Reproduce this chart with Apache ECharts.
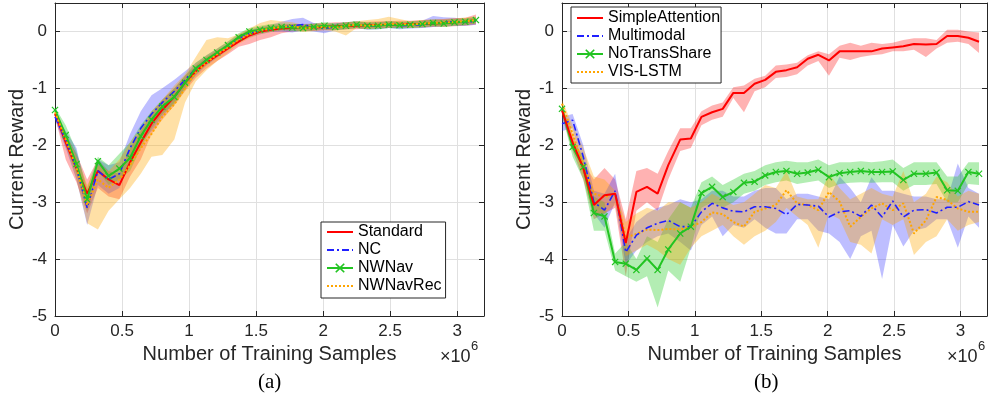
<!DOCTYPE html>
<html>
<head>
<meta charset="utf-8">
<script src="https://cdn.jsdelivr.net/npm/echarts@6/dist/echarts.min.js"></script>
<style>html,body{margin:0;padding:0;background:#fff}#c{width:990px;height:402px}</style>
</head>
<body>
<div id="c"></div>
<script>
// Training samples (x 10^6)
const samples = [0,0.08,0.16,0.24,0.32,0.40,0.48,0.56,0.64,0.72,0.80,0.89,0.97,1.05,1.13,1.21,1.29,1.37,1.45,1.53,1.61,1.69,1.77,1.85,1.93,2.01,2.09,2.17,2.25,2.33,2.41,2.49,2.57,2.65,2.74,2.82,2.90,2.98,3.06,3.14];
const xTicks = ['0','0.5','1','1.5','2','2.5','3'];
const yTicks = ['-5','-4','-3','-2','-1','0'];

// (a)
const standardMean = [-1.45,-1.95,-2.4,-2.85,-2.45,-2.6,-2.7,-2.3,-1.95,-1.62,-1.38,-1.15,-0.9,-0.7,-0.55,-0.42,-0.3,-0.18,-0.07,0.0,0.03,0.05,0.06,0.07,0.07,0.08,0.09,0.1,0.1,0.11,0.11,0.12,0.12,0.13,0.13,0.14,0.15,0.16,0.17,0.2];
const standardUp = [-1.4,-1.8,-2.15,-2.6,-2.25,-2.45,-2.5,-2.05,-1.75,-1.45,-1.2,-1.0,-0.78,-0.6,-0.45,-0.33,-0.22,-0.1,0.0,0.07,0.1,0.12,0.13,0.13,0.14,0.15,0.16,0.16,0.17,0.17,0.18,0.18,0.19,0.19,0.2,0.21,0.22,0.23,0.24,0.3];
const standardLo = [-1.5,-2.25,-2.65,-3.2,-2.75,-2.9,-2.95,-2.55,-2.25,-1.8,-1.55,-1.3,-1.05,-0.82,-0.65,-0.52,-0.4,-0.27,-0.22,-0.15,-0.1,-0.03,0.0,0.01,0.01,0.02,0.03,0.04,0.04,0.05,0.05,0.06,0.06,0.07,0.07,0.08,0.08,0.09,0.1,0.12];
const ncMean = [-1.5,-1.9,-2.4,-3.1,-2.45,-2.6,-2.5,-2.05,-1.7,-1.45,-1.25,-1.05,-0.85,-0.65,-0.5,-0.38,-0.25,-0.12,-0.03,0.02,0.05,0.08,0.1,0.12,0.08,0.05,0.08,0.1,0.12,0.09,0.1,0.12,0.1,0.11,0.12,0.14,0.16,0.17,0.16,0.18];
const ncUp = [-1.45,-1.75,-2.05,-2.85,-2.25,-2.35,-2.3,-1.8,-1.4,-1.12,-1.0,-0.85,-0.7,-0.55,-0.42,-0.3,-0.18,-0.06,0.03,0.08,0.12,0.17,0.22,0.24,0.15,0.12,0.14,0.16,0.18,0.15,0.16,0.18,0.16,0.17,0.19,0.27,0.25,0.24,0.22,0.24];
const ncLo = [-1.55,-2.05,-2.6,-3.4,-2.7,-2.85,-2.75,-2.3,-1.95,-1.75,-1.5,-1.25,-1.0,-0.78,-0.6,-0.46,-0.33,-0.2,-0.1,-0.05,-0.01,0.0,-0.02,0.02,0.0,-0.03,0.02,0.04,0.06,0.03,0.04,0.06,0.04,0.05,0.06,0.08,0.1,0.1,0.1,0.12];
const nwnavMean = [-1.38,-1.82,-2.33,-2.95,-2.28,-2.54,-2.41,-2.22,-1.84,-1.55,-1.32,-1.15,-0.9,-0.65,-0.5,-0.37,-0.24,-0.1,0.0,0.03,0.06,0.08,0.07,0.06,0.08,0.1,0.08,0.1,0.12,0.1,0.1,0.12,0.11,0.12,0.13,0.15,0.14,0.16,0.17,0.2];
const nwnavUp = [-1.33,-1.65,-2.1,-2.75,-2.2,-2.35,-2.15,-1.95,-1.65,-1.4,-1.2,-1.0,-0.78,-0.55,-0.42,-0.3,-0.17,-0.03,0.06,0.1,0.13,0.14,0.13,0.12,0.14,0.16,0.14,0.16,0.18,0.16,0.16,0.18,0.17,0.18,0.19,0.21,0.2,0.22,0.23,0.26];
const nwnavLo = [-1.43,-2.0,-2.5,-3.15,-2.45,-2.7,-2.6,-2.45,-2.05,-1.7,-1.45,-1.28,-1.02,-0.75,-0.58,-0.44,-0.31,-0.17,-0.06,-0.03,0.0,0.02,0.01,0.0,0.02,0.04,0.02,0.04,0.06,0.04,0.04,0.06,0.05,0.06,0.07,0.09,0.08,0.1,0.11,0.14];
const nwnavRecMean = [-1.42,-1.9,-2.4,-3.05,-2.6,-2.75,-2.6,-2.35,-2.05,-1.8,-1.5,-1.28,-1.0,-0.72,-0.55,-0.4,-0.28,-0.14,-0.05,0.02,0.05,0.08,0.1,0.05,0.07,0.08,0.06,0.1,0.12,0.1,0.12,0.13,0.14,0.12,0.14,0.15,0.16,0.17,0.18,0.2];
const nwnavRecUp = [-1.38,-1.8,-2.2,-2.7,-2.35,-2.45,-2.25,-1.95,-1.7,-1.4,-1.2,-0.95,-0.75,-0.45,-0.15,-0.1,-0.12,-0.05,0.05,0.15,0.2,0.18,0.16,0.12,0.13,0.14,0.12,0.16,0.18,0.2,0.22,0.26,0.22,0.18,0.2,0.21,0.22,0.23,0.24,0.26];
const nwnavRecLo = [-1.46,-2.0,-2.6,-3.37,-3.48,-3.15,-2.95,-2.75,-2.5,-2.2,-2.17,-1.9,-1.25,-0.88,-0.68,-0.52,-0.38,-0.22,-0.12,-0.05,-0.01,0.02,0.04,-0.01,0.01,0.02,0.0,-0.07,0.06,0.04,0.06,0.07,0.08,0.06,0.08,0.09,0.1,0.11,0.12,0.14];

// (b)
const saMean = [-1.39,-1.95,-2.4,-3.05,-2.88,-2.85,-3.72,-2.82,-2.73,-2.85,-2.35,-1.9,-1.88,-1.5,-1.42,-1.36,-1.08,-1.08,-0.92,-0.85,-0.71,-0.68,-0.63,-0.48,-0.41,-0.51,-0.35,-0.35,-0.35,-0.35,-0.3,-0.28,-0.26,-0.22,-0.23,-0.22,-0.08,-0.08,-0.11,-0.18];
const saUp = [-1.3,-1.8,-2.3,-2.6,-2.4,-2.6,-3.3,-2.45,-2.4,-2.5,-2.1,-1.7,-1.7,-1.4,-1.3,-1.25,-0.98,-0.95,-0.83,-0.78,-0.6,-0.58,-0.55,-0.42,-0.35,-0.4,-0.25,-0.2,-0.25,-0.2,-0.22,-0.2,-0.15,-0.12,-0.12,-0.15,0.03,0.03,0.0,-0.02];
const saLo = [-1.5,-2.1,-2.6,-3.3,-3.2,-3.1,-4.3,-3.15,-3.0,-3.15,-2.6,-2.1,-2.05,-1.65,-1.55,-1.5,-1.17,-1.42,-1.05,-0.98,-0.82,-0.8,-0.75,-0.6,-0.52,-0.78,-0.46,-0.5,-0.45,-0.42,-0.4,-0.35,-0.35,-0.32,-0.45,-0.3,-0.2,-0.18,-0.22,-0.38];
const mmMean = [-1.62,-1.56,-2.2,-3.0,-3.14,-2.8,-3.88,-3.58,-3.45,-3.37,-3.32,-3.43,-3.43,-3.17,-3.02,-3.1,-3.16,-3.17,-3.08,-3.08,-3.11,-3.22,-3.04,-3.05,-3.07,-3.26,-3.17,-3.15,-3.25,-3.05,-3.26,-2.98,-3.26,-3.14,-3.13,-3.19,-3.09,-3.09,-2.99,-3.05];
const mmUp = [-1.5,-1.45,-2.0,-2.8,-2.85,-2.5,-3.65,-3.35,-3.2,-3.1,-3.05,-2.95,-3.0,-2.95,-2.8,-2.8,-2.9,-2.9,-2.8,-2.75,-2.75,-2.95,-2.85,-2.85,-2.9,-2.95,-2.55,-2.75,-3.0,-2.56,-2.8,-2.8,-2.85,-2.9,-2.9,-2.95,-2.95,-2.32,-2.75,-2.85];
const mmLo = [-1.75,-1.7,-2.5,-3.2,-3.45,-3.0,-4.1,-3.85,-3.7,-3.6,-3.55,-3.7,-3.85,-3.4,-3.25,-3.6,-3.4,-3.45,-3.3,-3.45,-3.55,-3.55,-3.3,-3.3,-3.5,-3.55,-3.7,-4.0,-3.6,-3.5,-4.35,-3.4,-3.78,-3.5,-3.45,-3.3,-3.3,-3.8,-3.25,-3.45];
const ntsMean = [-1.36,-2.03,-2.38,-3.19,-3.25,-4.05,-4.08,-4.19,-3.99,-4.19,-3.83,-3.55,-3.43,-2.84,-2.73,-2.91,-2.82,-2.66,-2.64,-2.53,-2.47,-2.45,-2.5,-2.48,-2.43,-2.56,-2.49,-2.47,-2.45,-2.47,-2.47,-2.46,-2.61,-2.5,-2.5,-2.48,-2.79,-2.8,-2.47,-2.5];
const ntsUp = [-1.3,-1.9,-2.2,-2.9,-3.0,-3.9,-3.7,-4.0,-3.6,-3.7,-3.3,-3.0,-3.1,-2.65,-2.55,-2.7,-2.6,-2.5,-2.45,-2.35,-2.3,-2.27,-2.3,-2.3,-2.25,-2.35,-2.3,-2.3,-2.28,-2.3,-2.28,-2.25,-2.4,-2.3,-2.3,-2.3,-2.55,-2.55,-2.3,-2.3];
const ntsLo = [-1.45,-2.2,-2.6,-3.5,-3.5,-4.2,-4.3,-4.4,-4.3,-4.85,-4.2,-4.4,-3.8,-3.1,-3.0,-3.1,-3.0,-2.85,-2.8,-2.7,-2.65,-2.62,-2.68,-2.65,-2.62,-2.75,-2.68,-2.66,-2.65,-2.66,-2.65,-2.65,-2.8,-2.7,-2.7,-2.68,-3.0,-3.0,-2.68,-2.7];
const visMean = [-1.27,-1.8,-2.35,-2.85,-2.91,-2.85,-3.62,-3.56,-3.48,-3.49,-3.47,-3.48,-3.43,-3.35,-3.18,-3.21,-3.35,-3.43,-3.17,-3.11,-3.05,-2.79,-3.02,-3.05,-3.14,-2.82,-2.99,-3.43,-3.26,-3.11,-3.02,-3.14,-3.02,-3.55,-3.32,-2.91,-2.96,-3.11,-3.17,-3.17];
const visUp = [-1.2,-1.65,-2.05,-2.55,-2.6,-2.8,-3.35,-3.2,-3.1,-3.15,-3.0,-3.0,-3.1,-3.0,-2.85,-2.95,-3.05,-3.0,-2.85,-2.7,-2.75,-2.45,-2.9,-2.95,-2.95,-2.5,-2.75,-2.95,-2.85,-2.75,-2.85,-2.9,-2.45,-3.0,-2.85,-2.55,-2.65,-2.9,-2.8,-2.85];
const visLo = [-1.35,-2.0,-2.55,-3.2,-3.2,-3.05,-3.95,-3.85,-3.75,-3.85,-4.0,-4.1,-3.8,-3.6,-3.5,-3.4,-3.6,-3.75,-3.6,-3.5,-3.35,-3.1,-3.25,-3.4,-3.8,-3.2,-3.3,-3.7,-3.75,-3.9,-3.3,-3.4,-3.3,-3.93,-3.7,-3.6,-3.3,-3.5,-3.4,-3.35];

const FONT = "'Liberation Sans', Arial, Helvetica, sans-serif";
const AX = '#262626';
const C = {
  red: '#ff0000', redBand: 'rgba(255,0,0,0.3)',
  blue: '#2020ff', blueBand: 'rgba(40,40,255,0.3)',
  green: '#22c422', greenBand: 'rgba(20,200,20,0.32)',
  orange: '#ffa500', orangeBand: 'rgba(255,165,0,0.35)'
};
const XMARK = 'path://M0,1.2L1.2,0L5,3.8L8.8,0L10,1.2L6.2,5L10,8.8L8.8,10L5,6.2L1.2,10L0,8.8L3.8,5Z';

function band(g, up, lo, color) {
  return {
    type: 'custom', xAxisIndex: g * 2, yAxisIndex: g * 2, silent: true, z: 1,
    data: samples.map((x, i) => [x, lo[i], up[i]]),
    encode: { x: 0, y: [1, 2] },
    renderItem: function (params, api) {
      if (params.dataIndex !== 0) return null;
      const pts = [];
      for (let i = 0; i < samples.length; i++) pts.push(api.coord([samples[i], up[i]]));
      for (let i = samples.length - 1; i >= 0; i--) pts.push(api.coord([samples[i], lo[i]]));
      return { type: 'polygon', shape: { points: pts }, style: { fill: color, stroke: null } };
    }
  };
}
function line(g, name, vals, color, dash, width, marker) {
  return {
    type: 'line', name: name, xAxisIndex: g * 2, yAxisIndex: g * 2, z: 3,
    data: samples.map((x, i) => [x, vals[i]]),
    symbol: marker ? XMARK : 'none', symbolSize: 7, showSymbol: !!marker,
    itemStyle: { color: color },
    lineStyle: { color: color, width: width, type: dash },
    emphasis: { disabled: true }
  };
}
const xLab = v => { const k = Math.round(v * 2); return Math.abs(v * 2 - k) < 1e-6 ? xTicks[k] : ''; };
const yLab = v => { const k = Math.round(v); return Math.abs(v - k) < 1e-6 && k <= 0 ? yTicks[k + 5] : ''; };

function axesFor(g) {
  const base = { gridIndex: g, type: 'value', axisLine: { show: true, onZero: false, lineStyle: { color: AX, width: 1 } },
    axisTick: { show: true, inside: true, length: 5, lineStyle: { color: AX } } };
  const xs = [
    Object.assign({}, base, { min: 0, max: 3.2, interval: 0.5, position: 'bottom',
      axisLabel: { formatter: xLab, fontSize: 17, color: AX, fontFamily: FONT, margin: 7 },
      splitLine: { show: true, lineStyle: { color: '#e0e0e0', width: 1 } },
      name: 'Number of Training Samples', nameLocation: 'middle', nameGap: 25,
      nameTextStyle: { fontSize: 20, color: AX, fontFamily: FONT } }),
    Object.assign({}, base, { min: 0, max: 3.2, interval: 0.5, position: 'top',
      axisLabel: { show: false }, splitLine: { show: false } })
  ];
  const ys = [
    Object.assign({}, base, { min: -5, max: 0.5, interval: 1, position: 'left',
      axisLabel: { formatter: yLab, fontSize: 17, color: AX, fontFamily: FONT, margin: 8 },
      splitLine: { show: true, lineStyle: { color: '#e0e0e0', width: 1 } },
      name: 'Current Reward', nameLocation: 'middle', nameGap: 27,
      nameTextStyle: { fontSize: 20, color: AX, fontFamily: FONT } }),
    Object.assign({}, base, { min: -5, max: 0.5, interval: 1, position: 'right',
      axisLabel: { show: false }, splitLine: { show: false } })
  ];
  return { xs, ys };
}
const a0 = axesFor(0), a1 = axesFor(1);

const legendBase = { orient: 'vertical', backgroundColor: '#fff', borderColor: AX, borderWidth: 1, borderRadius: 0,
  itemWidth: 26, itemHeight: 12, itemGap: 0, selectedMode: false,
  textStyle: { fontSize: 16, color: '#000', fontFamily: FONT, lineHeight: 18 } };
const plain = n => ({ name: n, itemStyle: { opacity: 0 } });
const marked = n => ({ name: n });

const option = {
  animation: false,
  backgroundColor: '#fff',
  grid: [
    { left: 55, top: 3, width: 429, height: 313 },
    { left: 562, top: 3, width: 427, height: 313 }
  ],
  xAxis: [a0.xs[0], a0.xs[1], a1.xs[0], a1.xs[1]],
  yAxis: [a0.ys[0], a0.ys[1], a1.ys[0], a1.ys[1]],
  legend: [
    Object.assign({}, legendBase, { left: 321, top: 222, padding: [1, 4, 3, 5],
      data: [plain('Standard'), plain('NC'), marked('NWNav'), plain('NWNavRec')] }),
    Object.assign({}, legendBase, { left: 571, top: 7, padding: [2, 1, 2, 5],
      data: [plain('SimpleAttention'), plain('Multimodal'), marked('NoTransShare'), plain('VIS-LSTM')] })
  ],
  graphic: [
    { type: 'text', left: 440, top: 348, style: { text: '×10', fontSize: 18, fill: AX, fontFamily: FONT } },
    { type: 'text', left: 471, top: 340, style: { text: '6', fontSize: 13, fill: AX, fontFamily: FONT } },
    { type: 'text', left: 947, top: 348, style: { text: '×10', fontSize: 18, fill: AX, fontFamily: FONT } },
    { type: 'text', left: 978, top: 340, style: { text: '6', fontSize: 13, fill: AX, fontFamily: FONT } },
    { type: 'text', left: 258, top: 372, style: { text: '(a)', fontSize: 21, fill: '#000', fontFamily: "'Liberation Serif', 'Times New Roman', serif" } },
    { type: 'text', left: 754, top: 372, style: { text: '(b)', fontSize: 21, fill: '#000', fontFamily: "'Liberation Serif', 'Times New Roman', serif" } }
  ],
  series: [
    band(0, standardUp, standardLo, C.redBand),
    band(0, ncUp, ncLo, C.blueBand),
    band(0, nwnavUp, nwnavLo, C.greenBand),
    band(0, nwnavRecUp, nwnavRecLo, C.orangeBand),
    line(0, 'Standard', standardMean, C.red, 'solid', 2),
    line(0, 'NC', ncMean, C.blue, [7, 3, 2, 3], 1.6),
    line(0, 'NWNav', nwnavMean, C.green, 'solid', 2, true),
    line(0, 'NWNavRec', nwnavRecMean, C.orange, [2, 2], 2),
    band(1, saUp, saLo, C.redBand),
    band(1, mmUp, mmLo, C.blueBand),
    band(1, ntsUp, ntsLo, C.greenBand),
    band(1, visUp, visLo, C.orangeBand),
    line(1, 'VIS-LSTM', visMean, C.orange, [2, 2], 2),
    line(1, 'Multimodal', mmMean, C.blue, [7, 3, 2, 3], 1.6),
    line(1, 'NoTransShare', ntsMean, C.green, 'solid', 2, true),
    line(1, 'SimpleAttention', saMean, C.red, 'solid', 2)
  ]
};
const chart = echarts.init(document.getElementById('c'), null, { renderer: 'canvas' });
chart.setOption(option);
</script>
</body>
</html>
